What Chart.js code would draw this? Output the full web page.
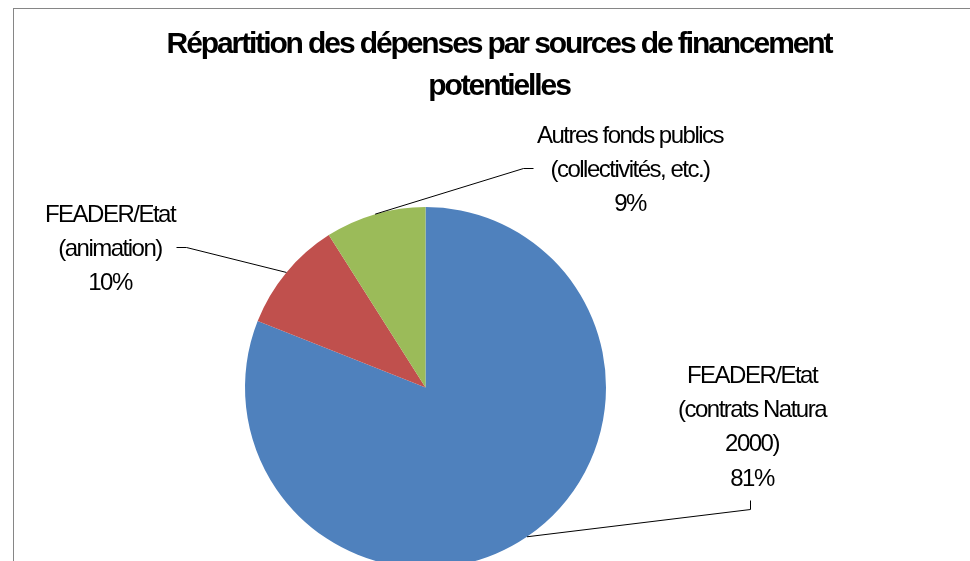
<!DOCTYPE html>
<html>
<head>
<meta charset="utf-8">
<script src="https://cdn.jsdelivr.net/npm/chart.js@4.4.1/dist/chart.umd.min.js"></script>
<style>
  html, body { margin: 0; padding: 0; background: #fff; overflow: hidden; width: 970px; height: 561px; }
  #wrap { position: absolute; left: 0; top: 0; width: 970px; height: 800px; }
</style>
</head>
<body>
<div id="wrap"><canvas id="c" width="970" height="800"></canvas></div>
<script>
// ---- Data ----
const titleLines = ["Répartition des dépenses par sources de financement", "potentielles"];
const categories = [
  "FEADER/Etat (contrats Natura 2000)",
  "FEADER/Etat (animation)",
  "Autres fonds publics (collectivités, etc.)"
];
const values = [81, 10, 9];
const labelLines = [
  ["FEADER/Etat", "(contrats Natura", "2000)"],
  ["FEADER/Etat", "(animation)"],
  ["Autres fonds publics", "(collectivités, etc.)"]
];
const colors = ["#4F81BD", "#C0504D", "#9BBB59"];

// ---- Layout for labels (drawing only) ----
const labelLayout = [
  { cx: 752, y0: 383, elbow: [[750, 509], [750, 500]] },
  { cx: 110, y0: 222, elbow: [[186, 247], [176, 247]] },
  { cx: 630, y0: 143, elbow: [[523, 168], [533, 168]] }
];

const decor = {
  id: 'decor',
  beforeDraw(chart) {
    const ctx = chart.ctx;
    ctx.save();
    ctx.fillStyle = '#fff';
    ctx.fillRect(0, 0, chart.width, chart.height);
    ctx.strokeStyle = '#868686';
    ctx.lineWidth = 1;
    ctx.strokeRect(13.5, 8.5, 3000, 3000);
    ctx.restore();
  },
  afterDraw(chart) {
    const ctx = chart.ctx;
    ctx.save();
    // Title
    ctx.fillStyle = '#000';
    ctx.textAlign = 'center';
    ctx.textBaseline = 'alphabetic';
    ctx.font = 'bold 30px "Liberation Sans", Arial, sans-serif';
    ctx.letterSpacing = '-2.1px';
    ctx.fillText(titleLines[0], 499, 53);
    ctx.fillText(titleLines[1], 499, 95);

    // Labels and leader lines
    const meta = chart.getDatasetMeta(0);
    const total = values.reduce((a, b) => a + b, 0);
    meta.data.forEach((arc, i) => {
      const p = arc.getProps(['x', 'y', 'startAngle', 'endAngle', 'outerRadius'], true);
      const mid = (p.startAngle + p.endAngle) / 2;
      const ex = p.x + Math.cos(mid) * p.outerRadius;
      const ey = p.y + Math.sin(mid) * p.outerRadius;
      const L = labelLayout[i];
      ctx.strokeStyle = '#000';
      ctx.lineWidth = 1;
      ctx.beginPath();
      ctx.moveTo(ex, ey);
      L.elbow.forEach(pt => ctx.lineTo(pt[0] + 0.5, pt[1] + 0.5));
      ctx.stroke();

      const lines = labelLines[i].concat([Math.round(values[i] / total * 100) + '%']);
      ctx.font = '24px "Liberation Sans", Arial, sans-serif';
      ctx.letterSpacing = '-1.5px';
      ctx.fillStyle = '#000';
      lines.forEach((t, k) => ctx.fillText(t, L.cx, L.y0 + k * 34.2));
    });
    ctx.restore();
  }
};

new Chart(document.getElementById('c'), {
  type: 'pie',
  data: {
    labels: categories,
    datasets: [{
      data: values,
      backgroundColor: colors,
      borderWidth: 0
    }]
  },
  options: {
    responsive: false,
    animation: false,
    rotation: 0,
    layout: { padding: { left: 245, right: 970 - 606, top: 207, bottom: 800 - 568 } },
    plugins: {
      legend: { display: false },
      title: { display: false },
      tooltip: { enabled: false }
    }
  },
  plugins: [decor]
});
</script>
</body>
</html>
